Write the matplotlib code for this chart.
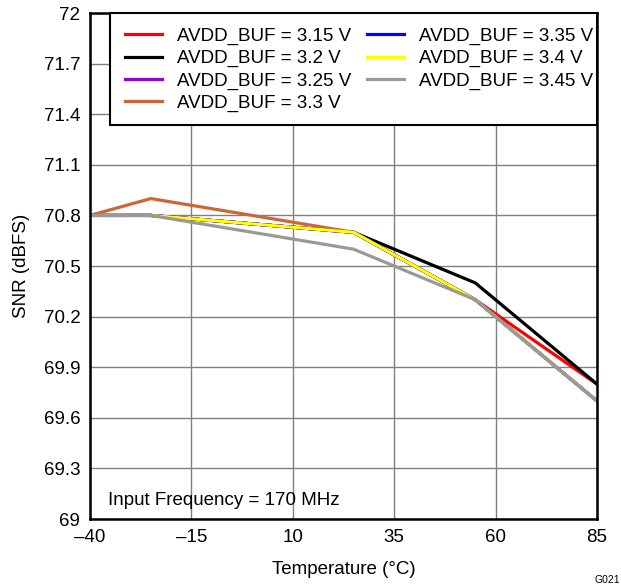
import matplotlib
matplotlib.use("Agg")
import matplotlib.pyplot as plt
from matplotlib.patches import Rectangle

plt.rcParams["font.family"] = ["Liberation Sans", "DejaVu Sans"]

temps = [-40, -25, 25, 55, 85]
series_labels = [
    "AVDD_BUF = 3.15 V",
    "AVDD_BUF = 3.2 V",
    "AVDD_BUF = 3.25 V",
    "AVDD_BUF = 3.3 V",
    "AVDD_BUF = 3.35 V",
    "AVDD_BUF = 3.4 V",
    "AVDD_BUF = 3.45 V",
]
snr_315 = [70.8, 70.8, 70.7, 70.3, 69.8]
snr_320 = [70.8, 70.8, 70.7, 70.4, 69.8]
snr_325 = [70.8, 70.8, 70.7, 70.3, 69.7]
snr_330 = [70.8, 70.9, 70.7, 70.3, 69.7]
snr_335 = [70.8, 70.8, 70.7, 70.3, 69.7]
snr_340 = [70.8, 70.8, 70.7, 70.3, 69.7]
snr_345 = [70.8, 70.8, 70.6, 70.3, 69.7]
colors = ["#FF0000", "#000000", "#9400D3", "#CC6633", "#0000FF", "#FFFF00", "#999999"]

x_ticks = [-40, -15, 10, 35, 60, 85]
y_ticks = [69, 69.3, 69.6, 69.9, 70.2, 70.5, 70.8, 71.1, 71.4, 71.7, 72]

fs = 13.5
fig = plt.figure(figsize=(6.21, 5.87), dpi=100)
ax = fig.add_axes([0.1449, 0.1158, 0.8164, 0.862])

all_series = [snr_315, snr_320, snr_325, snr_330, snr_335, snr_340, snr_345]
for vals, lab, col in zip(all_series, series_labels, colors):
    ax.plot(temps, vals, color=col, lw=2.3, label=lab, solid_joinstyle="miter")

ax.set_xlim(-40, 85)
ax.set_ylim(69, 72)
ax.set_xticks(x_ticks)
ax.set_xticklabels([f"{t}".replace("-", "\u2013") for t in x_ticks])
ax.set_yticks(y_ticks)
ax.set_yticklabels([f"{v:g}" for v in y_ticks])
ax.tick_params(length=0, labelsize=fs, pad=7)
ax.grid(True, color="#808080", lw=1)
ax.set_axisbelow(True)
for sp in ax.spines.values():
    sp.set_linewidth(1.8)
    sp.set_color("black")

ax.set_xlabel("Temperature (°C)", fontsize=fs, labelpad=11)
ax.set_ylabel("SNR (dBFS)", fontsize=fs, labelpad=10)

# legend box (TI style: wider left padding than right)
ax.add_patch(Rectangle((0.0394, 0.7787), 0.9606, 0.2213, transform=ax.transAxes,
                       facecolor="white", edgecolor="black", lw=1.5, zorder=4,
                       clip_on=False))
leg = ax.legend(ncol=2, loc="upper left", bbox_to_anchor=(0.069, 0.971), fontsize=fs,
                frameon=False, borderaxespad=0, borderpad=0, handlelength=2.0,
                handletextpad=0.8, columnspacing=0.8, labelspacing=0.27)
leg.set_zorder(5)

ax.text(-35.6, 69.11, "Input Frequency = 170 MHz", fontsize=fs, va="center")
fig.text(0.998, 0.003, "G021", fontsize=7.5, ha="right", va="bottom")

fig.savefig("out.png", dpi=100)
